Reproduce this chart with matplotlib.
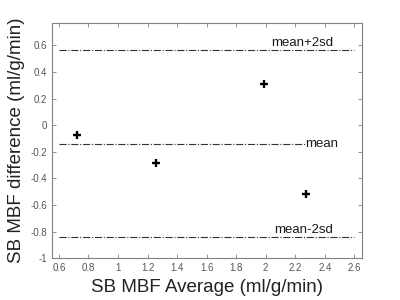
import matplotlib
matplotlib.use("Agg")
import matplotlib.pyplot as plt

avg = [0.72, 1.26, 1.99, 2.27]
diff = [-0.07, -0.285, 0.31, -0.52]
mean_val = -0.14
upper = 0.565
lower = -0.84
xticks = [0.6, 0.8, 1.0, 1.2, 1.4, 1.6, 1.8, 2.0, 2.2, 2.4, 2.6]
xticklabels = ["0.6", "0.8", "1", "1.2", "1.4", "1.6", "1.8", "2", "2.2", "2.4", "2.6"]
yticks = [-1, -0.8, -0.6, -0.4, -0.2, 0, 0.2, 0.4, 0.6]
yticklabels = ["-1", "-0.8", "-0.6", "-0.4", "-0.2", "0", "0.2", "0.4", "0.6"]

plt.rcParams['font.family'] = ['Liberation Sans', 'DejaVu Sans']

fig = plt.figure(figsize=(4, 3), dpi=100)
ax = fig.add_axes([0.13, 0.139, 0.775, 0.785])

ax.scatter(avg, diff, marker='+', s=32, c='black', linewidths=1.7, zorder=3)

lc = '#333333'
ax.plot([0.6, 2.6], [upper, upper], linestyle='-.', color=lc, linewidth=0.8)
ax.plot([0.6, max(avg)], [mean_val, mean_val], linestyle='-.', color=lc, linewidth=0.8)
ax.plot([0.6, 2.6], [lower, lower], linestyle='-.', color=lc, linewidth=0.8)

ax.text(2.455, upper + 0.01, "mean+2sd", ha='right', va='bottom', fontsize=9.5, color='#1a1a1a')
ax.text(2.27, mean_val, "mean", ha='left', va='center', fontsize=9.5, color='#1a1a1a')
ax.text(2.455, lower + 0.01, "mean-2sd", ha='right', va='bottom', fontsize=9.5, color='#1a1a1a')

ax.set_xlim(0.553, 2.652)
ax.set_ylim(-1, 0.77)
ax.set_xticks(xticks)
ax.set_xticklabels(xticklabels)
ax.set_yticks(yticks)
ax.set_yticklabels(yticklabels)
ax.tick_params(direction='in', top=True, right=True, length=3, width=0.6,
               colors='#808080', labelcolor='#555555', labelsize=7)
for s in ax.spines.values():
    s.set_color('#808080')
    s.set_linewidth(0.8)

ax.set_xlabel("SB MBF Average (ml/g/min)", fontsize=13.5, color='#222222', labelpad=4)
ax.set_ylabel("SB MBF difference (ml/g/min)", fontsize=13.5, color='#222222', labelpad=4)

fig.savefig("out.png", dpi=100)
